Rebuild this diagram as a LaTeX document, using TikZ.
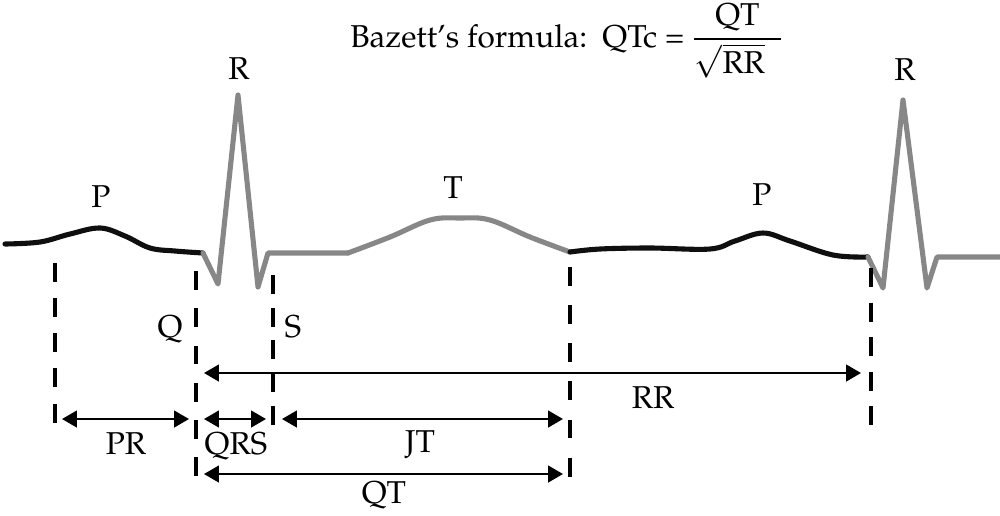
\documentclass[tikz,border=0pt]{standalone}
\usepackage{amsmath}
\usepackage[T1]{fontenc}
\usepackage{mathpazo}
\usetikzlibrary{arrows.meta}
\definecolor{tracegray}{RGB}{135,135,135}
\definecolor{traceblack}{RGB}{15,15,15}
\tikzset{
  lbl/.style={font=\fontsize{18}{21}\selectfont, inner sep=0pt, anchor=base},
  tracek/.style={draw=traceblack, line width=2.9pt, line join=round, line cap=round},
  traceg/.style={draw=tracegray, line width=2.9pt, line join=round, line cap=round},
  guide/.style={draw=black, line width=2.8pt, dash pattern=on 10.8pt off #1},
  dim/.style={draw=black, line width=1.3pt, {Triangle[length=8.5pt,width=9.5pt]}-{Triangle[length=8.5pt,width=9.5pt]}}
}
\begin{document}
\begin{tikzpicture}[x=0.02cm,y=-0.02cm]
\useasboundingbox (0,0) rectangle (1000,515);
% ECG trace
\draw[tracek] plot[smooth, tension=0.6] coordinates {(5,244) (40,242) (70,234) (100,228) (125,236) (150,248) (175,251) (203,253)};
\draw[traceg] (203,253) -- (218,284) -- (238,95) -- (258,287) -- (268,253) -- (348,253);
\draw[traceg] plot[smooth, tension=0.6] coordinates {(348,253) (390,237) (430,220) (460,218) (490,220) (530,237) (570,252)};
\draw[tracek] plot[smooth, tension=0.6] coordinates {(570,252) (600,249) (650,248) (710,249) (735,241) (763,233) (790,241) (833,255) (868,257)};
\draw[traceg] (868,257) -- (883,288) -- (903,100) -- (927,288) -- (937,257) -- (1000,257);
% guide lines
\coordinate (g1t) at (55,263);  \coordinate (g1b) at (55,423);
\coordinate (g2t) at (196,271); \coordinate (g2b) at (196,477);
\coordinate (g3t) at (273,275); \coordinate (g3b) at (273,425);
\coordinate (g4t) at (570,267); \coordinate (g4b) at (570,477);
\coordinate (g5t) at (871,268); \coordinate (g5b) at (871,426);
\draw[guide=9.2pt] (g1t) -- (g1b);
\draw[guide=10.4pt] (g2t) -- (g2b);
\draw[guide=7.8pt] (g3t) -- (g3b);
\draw[guide=10.9pt] (g4t) -- (g4b);
\draw[guide=8.9pt] (g5t) -- (g5b);
% dimension arrows
\coordinate (rrA) at (204,373); \coordinate (rrB) at (861,373);
\coordinate (prA) at (62,419);  \coordinate (prB) at (189,419);
\coordinate (qrsA) at (204,419); \coordinate (qrsB) at (266,419);
\coordinate (jtA) at (282,419); \coordinate (jtB) at (563,419);
\coordinate (qtA) at (204,474); \coordinate (qtB) at (563,474);
\draw[dim] (rrA) -- (rrB);
\draw[dim] (prA) -- (prB);
\draw[dim] (qrsA) -- (qrsB);
\draw[dim] (jtA) -- (jtB);
\draw[dim] (qtA) -- (qtB);
% labels
\node[lbl] (R1) at (239,79) {R};
\node[lbl] (R2) at (905,80) {R};
\node[lbl] (P1) at (101,207) {P};
\node[lbl] (T) at (453,198) {T};
\node[lbl] (P2) at (762,205) {P};
\node[lbl] (Q) at (170,337) {Q};
\node[lbl] (S) at (293,337) {S};
\node[lbl] (RR) at (653,408) {RR};
\node[lbl] (PR) at (126,454) {PR};
\node[lbl] (QRS) at (236,454) {QRS};
\node[lbl] (JT) at (420,452) {JT};
\node[lbl] (QT) at (384,503) {QT};
\node[lbl, anchor=base west] (bz) at (350,47) {Bazett's formula:\, QTc = $\dfrac{\text{QT}}{\sqrt{\text{RR}}\hspace{9pt}}$};
\end{tikzpicture}
\end{document}
